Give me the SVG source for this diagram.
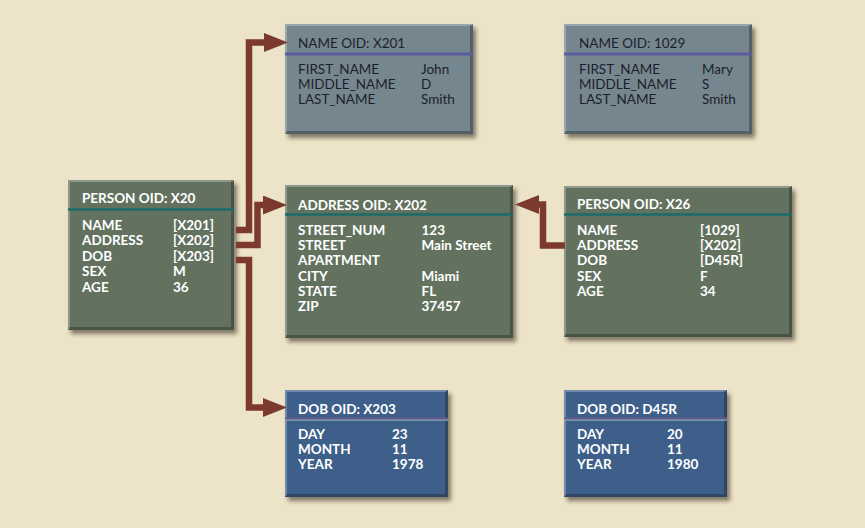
<svg xmlns="http://www.w3.org/2000/svg" width="865" height="528" viewBox="0 0 865 528">
  <defs>
    <filter id="shadow" x="-10%" y="-10%" width="125%" height="125%">
      <feDropShadow dx="3" dy="4" stdDeviation="2" flood-color="#2a2418" flood-opacity="0.55"/>
    </filter>
    <marker id="arrow" viewBox="0 0 24 19" refX="0" refY="9.5" markerWidth="24" markerHeight="19" markerUnits="userSpaceOnUse" orient="auto">
      <polygon points="0,0 24,9.5 0,19" fill="#7b3a2d"/>
    </marker>
    <style>
      .green { fill: #64725f; }
      .grey { fill: #75868f; }
      .blue { fill: #3d5e8a; }
      .hi { fill: none; stroke: #ffffff; stroke-opacity: 0.28; stroke-width: 2; }
      .lo { fill: none; stroke: #1a1a1a; stroke-opacity: 0.35; stroke-width: 3; }
      .sep-teal { stroke: #1c6b6b; stroke-width: 2.5; }
      .sep-purple { stroke: #5c5c9e; stroke-width: 3; }
      .sep-mauve { stroke: #6a5a8c; stroke-width: 2; }
      .sep-mauve-lo { stroke: #8aa6b8; stroke-width: 1.2; }
      .light { font-family: Lato, "Open Sans", "Liberation Sans", sans-serif; font-size: 13.5px; font-weight: bold; fill: #ffffff; }
      .dark { font-family: Lato, "Open Sans", "Liberation Sans", sans-serif; font-size: 13.5px; fill: #1c1f2b; }
      .conn { fill: none; stroke: #7b3a2d; stroke-width: 6.5; stroke-linejoin: miter; stroke-linecap: butt; }
    </style>
  </defs>

  <rect x="0" y="0" width="865" height="528" fill="#ede3c8"/>

  <!-- PERSON OID: X20 -->
  <g id="person-x20">
    <rect x="68" y="180" width="166" height="150" class="green" filter="url(#shadow)"/>
    <polyline points="69,329 69,181 233,181" class="hi"/>
    <polyline points="69,328.5 232.5,328.5 232.5,181" class="lo"/>
    <line x1="68" y1="209.5" x2="234" y2="209.5" class="sep-teal"/>
    <text x="82" y="203" class="light">PERSON OID: X20</text>
    <text class="light">
      <tspan x="82" y="229.5">NAME</tspan>
      <tspan x="82" y="245">ADDRESS</tspan>
      <tspan x="82" y="260.5">DOB</tspan>
      <tspan x="82" y="276">SEX</tspan>
      <tspan x="82" y="291.5">AGE</tspan>
    </text>
    <text class="light">
      <tspan x="173" y="229.5">[X201]</tspan>
      <tspan x="173" y="245">[X202]</tspan>
      <tspan x="173" y="260.5">[X203]</tspan>
      <tspan x="173" y="276">M</tspan>
      <tspan x="173" y="291.5">36</tspan>
    </text>
  </g>

  <!-- NAME OID: X201 -->
  <g id="name-x201">
    <rect x="285" y="24" width="188" height="110" class="grey" filter="url(#shadow)"/>
    <polyline points="286,133 286,25 472,25" class="hi"/>
    <polyline points="286,132.5 471.5,132.5 471.5,25" class="lo"/>
    <line x1="285" y1="54" x2="473" y2="54" class="sep-purple"/>
    <text x="298" y="47.5" class="dark">NAME OID: X201</text>
    <text class="dark">
      <tspan x="298" y="73.5">FIRST_NAME</tspan>
      <tspan x="298" y="88.5">MIDDLE_NAME</tspan>
      <tspan x="298" y="103.5">LAST_NAME</tspan>
    </text>
    <text class="dark">
      <tspan x="421" y="73.5">John</tspan>
      <tspan x="421" y="88.5">D</tspan>
      <tspan x="421" y="103.5">Smith</tspan>
    </text>
  </g>

  <!-- NAME OID: 1029 -->
  <g id="name-1029">
    <rect x="564" y="24" width="188" height="110" class="grey" filter="url(#shadow)"/>
    <polyline points="565,133 565,25 751,25" class="hi"/>
    <polyline points="565,132.5 750.5,132.5 750.5,25" class="lo"/>
    <line x1="564" y1="54" x2="752" y2="54" class="sep-purple"/>
    <text x="579" y="47.5" class="dark">NAME OID: 1029</text>
    <text class="dark">
      <tspan x="579" y="73.5">FIRST_NAME</tspan>
      <tspan x="579" y="88.5">MIDDLE_NAME</tspan>
      <tspan x="579" y="103.5">LAST_NAME</tspan>
    </text>
    <text class="dark">
      <tspan x="702" y="73.5">Mary</tspan>
      <tspan x="702" y="88.5">S</tspan>
      <tspan x="702" y="103.5">Smith</tspan>
    </text>
  </g>

  <!-- ADDRESS OID: X202 -->
  <g id="address-x202">
    <rect x="285" y="185" width="228" height="153" class="green" filter="url(#shadow)"/>
    <polyline points="286,337 286,186 512,186" class="hi"/>
    <polyline points="286,336.5 511.5,336.5 511.5,186" class="lo"/>
    <line x1="285" y1="214.5" x2="513" y2="214.5" class="sep-teal"/>
    <text x="298" y="209.5" class="light">ADDRESS OID: X202</text>
    <text class="light">
      <tspan x="298" y="234.5">STREET_NUM</tspan>
      <tspan x="298" y="249.5">STREET</tspan>
      <tspan x="298" y="265">APARTMENT</tspan>
      <tspan x="298" y="280.5">CITY</tspan>
      <tspan x="298" y="295.5">STATE</tspan>
      <tspan x="298" y="311">ZIP</tspan>
    </text>
    <text class="light">
      <tspan x="421.5" y="234.5">123</tspan>
      <tspan x="421.5" y="249.5">Main Street</tspan>
      <tspan x="421.5" y="280.5">Miami</tspan>
      <tspan x="421.5" y="295.5">FL</tspan>
      <tspan x="421.5" y="311">37457</tspan>
    </text>
  </g>

  <!-- PERSON OID: X26 -->
  <g id="person-x26">
    <rect x="564" y="186" width="228" height="151" class="green" filter="url(#shadow)"/>
    <polyline points="565,336 565,187 791,187" class="hi"/>
    <polyline points="565,335.5 790.5,335.5 790.5,187" class="lo"/>
    <line x1="564" y1="214.5" x2="792" y2="214.5" class="sep-teal"/>
    <text x="577" y="208.5" class="light">PERSON OID: X26</text>
    <text class="light">
      <tspan x="577" y="234.5">NAME</tspan>
      <tspan x="577" y="249.5">ADDRESS</tspan>
      <tspan x="577" y="265">DOB</tspan>
      <tspan x="577" y="280.5">SEX</tspan>
      <tspan x="577" y="296">AGE</tspan>
    </text>
    <text class="light">
      <tspan x="700" y="234.5">[1029]</tspan>
      <tspan x="700" y="249.5">[X202]</tspan>
      <tspan x="700" y="265">[D45R]</tspan>
      <tspan x="700" y="280.5">F</tspan>
      <tspan x="700" y="296">34</tspan>
    </text>
  </g>

  <!-- DOB OID: X203 -->
  <g id="dob-x203">
    <rect x="285" y="390" width="163" height="107" class="blue" filter="url(#shadow)"/>
    <polyline points="286,496 286,391 447,391" class="hi"/>
    <polyline points="286,495.5 446.5,495.5 446.5,391" class="lo"/>
    <line x1="285" y1="418.5" x2="448" y2="418.5" class="sep-mauve"/>
    <line x1="285" y1="420.2" x2="448" y2="420.2" class="sep-mauve-lo"/>
    <text x="298" y="413.5" class="light">DOB OID: X203</text>
    <text class="light">
      <tspan x="298" y="438.5">DAY</tspan>
      <tspan x="298" y="453.5">MONTH</tspan>
      <tspan x="298" y="469">YEAR</tspan>
    </text>
    <text class="light">
      <tspan x="392" y="438.5">23</tspan>
      <tspan x="392" y="453.5">11</tspan>
      <tspan x="392" y="469">1978</tspan>
    </text>
  </g>

  <!-- DOB OID: D45R -->
  <g id="dob-d45r">
    <rect x="564" y="390" width="163" height="107" class="blue" filter="url(#shadow)"/>
    <polyline points="565,496 565,391 726,391" class="hi"/>
    <polyline points="565,495.5 725.5,495.5 725.5,391" class="lo"/>
    <line x1="564" y1="418.5" x2="727" y2="418.5" class="sep-mauve"/>
    <line x1="564" y1="420.2" x2="727" y2="420.2" class="sep-mauve-lo"/>
    <text x="577" y="413.5" class="light">DOB OID: D45R</text>
    <text class="light">
      <tspan x="577" y="438.5">DAY</tspan>
      <tspan x="577" y="453.5">MONTH</tspan>
      <tspan x="577" y="469">YEAR</tspan>
    </text>
    <text class="light">
      <tspan x="667" y="438.5">20</tspan>
      <tspan x="667" y="453.5">11</tspan>
      <tspan x="667" y="469">1980</tspan>
    </text>
  </g>

  <!-- Connectors -->
  <g id="connectors">
    <path class="conn" d="M236 230 H249 V42.5 H264" marker-end="url(#arrow)"/>
    <path class="conn" d="M236 245 H257.5 V205 H263" marker-end="url(#arrow)"/>
    <path class="conn" d="M236 260 H249 V407.5 H263" marker-end="url(#arrow)"/>
    <path class="conn" d="M565 245.5 H543 V204.5 H539" marker-end="url(#arrow)"/>
  </g>
</svg>
